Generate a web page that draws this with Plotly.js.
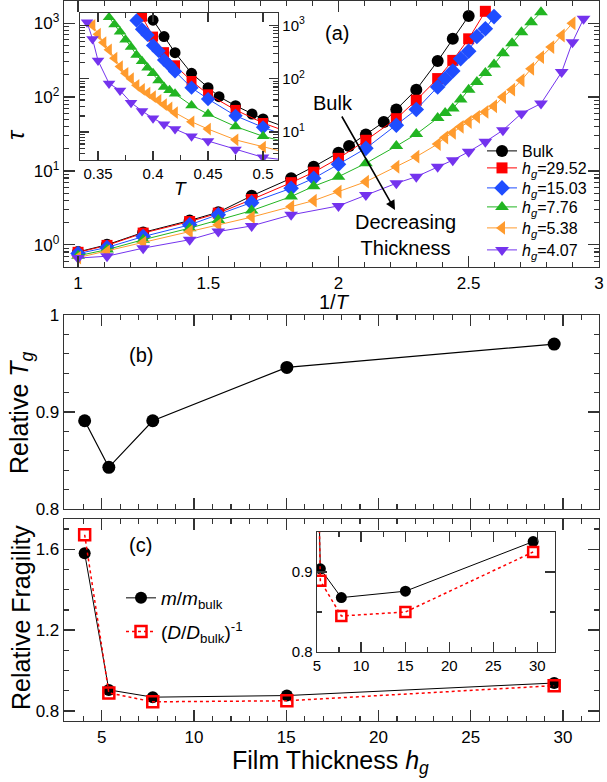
<!DOCTYPE html>
<html><head><meta charset="utf-8">
<script src="https://cdn.plot.ly/plotly-3.0.1.min.js"></script>
<style>html,body{margin:0;padding:0;background:#fff}#g{width:607px;height:782px}</style>
</head><body><div id="g"></div>
<script>
// ---- Panel (a): relaxation time tau vs temperature T ----
const T_bulk = [0.40,0.41,0.42,0.435,0.45,0.46,0.475,0.49,0.50,0.525,0.55,0.60,0.65,0.70,0.80,0.90,1.00];
const tau_bulk = [1250,615,307,126,67.8,46,31.2,21.7,17.6,11.4,7.94,4.6,2.76,2.13,1.47,1.0,0.80];
const T_h2952 = [0.39,0.40,0.41,0.42,0.435,0.45,0.475,0.50,0.525,0.55,0.60,0.65,0.70,0.80,0.90,1.00];
const tau_h2952 = [1450,615,314,178,90.6,51,26,14.8,9.6,6.93,4.1,2.68,2.06,1.44,0.98,0.79];
const T_h1503 = [0.385,0.39,0.395,0.40,0.405,0.41,0.415,0.42,0.435,0.45,0.475,0.50,0.525,0.55,0.60,0.65,0.70,0.80,0.90,1.00];
const tau_h1503 = [1230,840,661,419,331,225,178,137,67.8,41.6,20.2,12.3,7.94,5.82,3.72,2.54,1.86,1.29,0.92,0.76];
const T_h776 = [0.36,0.365,0.37,0.375,0.38,0.385,0.39,0.395,0.40,0.405,0.41,0.415,0.42,0.435,0.45,0.475,0.50,0.525,0.55,0.60,0.65,0.70,0.80,0.90,1.00];
const tau_h776 = [1408,1032,756,537,393,277,212,160,126,92.5,70,61,52,31.5,21.7,12.7,8.35,6.2,4.49,2.9,2.17,1.68,1.17,0.86,0.71];
const T_h538 = [0.345,0.35,0.355,0.36,0.365,0.37,0.375,0.38,0.385,0.39,0.395,0.40,0.405,0.41,0.415,0.42,0.435,0.45,0.475,0.50,0.525,0.55,0.60,0.65,0.70,0.80,0.90,1.00];
const tau_h538 = [1000,682,475,347,242,169,126,100,75,63,54,46,39.5,32.8,28.4,23.1,15.6,11.4,7.15,5.25,3.96,3.29,2.37,1.86,1.51,1.07,0.81,0.67];
const T_h407 = [0.34,0.345,0.35,0.36,0.37,0.38,0.39,0.40,0.41,0.42,0.435,0.45,0.475,0.50,0.55,0.60,0.65,0.70,0.80,0.90,1.00];
const tau_h407 = [1146,554,218,81.7,60,35.6,24.8,18.2,14.0,11.4,8.35,6.8,4.73,3.36,2.54,1.80,1.51,1.17,0.90,0.70,0.66];

const seriesNames = ['Bulk','<i>h</i><sub><i>g</i></sub>=29.52','<i>h</i><sub><i>g</i></sub>=15.03','<i>h</i><sub><i>g</i></sub>=7.76','<i>h</i><sub><i>g</i></sub>=5.38','<i>h</i><sub><i>g</i></sub>=4.07'];

// ---- Panels (b), (c) ----
const hg = [4.07,5.38,7.76,15.03,29.52];
const relTg = [0.891,0.843,0.891,0.946,0.970];
const mRel = [1.58,0.904,0.868,0.876,0.938];
const DinvRel = [1.672,0.889,0.845,0.850,0.925];

// tick labels
const logTickVals = [1,10,100,1000];
const logTickText = ['10<sup>0</sup>','10<sup>1</sup>','10<sup>2</sup>','10<sup>3</sup>'];
const logMinorVals = [0.6,0.7,0.8,0.9,2,3,4,5,6,7,8,9,20,30,40,50,60,70,80,90,200,300,400,500,600,700,800,900];

const F = 'Liberation Sans, Arial, sans-serif';
const W = 607, H = 782;
const px = x => x / W;
const py = y => 1 - y / H;
const AX = '#333';

const styles = [
  {sym:'circle', col:'#000000', size:12},
  {sym:'square', col:'#ff0000', size:11},
  {sym:'diamond', col:'#1f4dff', size:12},
  {sym:'triangle-up', col:'#22b522', size:12},
  {sym:'triangle-left', col:'#ff9b2e', size:12},
  {sym:'triangle-down', col:'#7433ee', size:12}
];
const Ts = [T_bulk,T_h2952,T_h1503,T_h776,T_h538,T_h407];
const taus = [tau_bulk,tau_h2952,tau_h1503,tau_h776,tau_h538,tau_h407];
// legend row centres (pixels) for panel (a)
const legRows = [151,168,188,207,228,250];
const legIds = ['legend','legend2','legend3','legend4','legend5','legend6'];

const traces = [];
Ts.forEach((T,i)=>{
  const s = styles[i];
  traces.push({x:T.map(t=>1/t), y:taus[i], type:'scatter', mode:'lines+markers', name:seriesNames[i],
    xaxis:'x', yaxis:'y', legend:legIds[i],
    line:{color:s.col,width:1}, marker:{symbol:s.sym,color:s.col,size:s.size,line:{width:0}}});
});
Ts.forEach((T,i)=>{
  const s = styles[i];
  traces.push({x:T, y:taus[i], type:'scatter', mode:'lines+markers', showlegend:false,
    xaxis:'x2', yaxis:'y2',
    line:{color:s.col,width:1}, marker:{symbol:s.sym,color:s.col,size:s.size-1,line:{width:0}}});
});
traces.push({x:hg, y:relTg, type:'scatter', mode:'lines+markers', showlegend:false, xaxis:'x3', yaxis:'y3',
  line:{color:'#000',width:1.2}, marker:{symbol:'circle',color:'#000',size:13}});
traces.push({x:hg, y:mRel, type:'scatter', mode:'lines+markers', name:'<i>m</i>/<i>m</i><sub>bulk</sub>', xaxis:'x4', yaxis:'y4',
  legend:'legend7', legendgroup:'m',
  line:{color:'#000',width:1}, marker:{symbol:'circle',color:'#000',size:12}});
traces.push({x:hg, y:DinvRel, type:'scatter', mode:'lines+markers', name:'(<i>D</i>/<i>D</i><sub>bulk</sub>)<sup>-1</sup>', xaxis:'x4', yaxis:'y4',
  legend:'legend7', legendgroup:'d',
  line:{color:'#ff0000',width:1.5,dash:'dot'}, marker:{symbol:'square-open',color:'#ff0000',size:11,line:{width:2.5,color:'#ff0000'}}});
traces.push({x:hg, y:mRel, type:'scatter', mode:'lines+markers', showlegend:false, xaxis:'x5', yaxis:'y5',
  line:{color:'#000',width:1}, marker:{symbol:'circle',color:'#000',size:11}});
traces.push({x:hg, y:DinvRel, type:'scatter', mode:'lines+markers', showlegend:false, xaxis:'x5', yaxis:'y5',
  line:{color:'#ff0000',width:1.5,dash:'dot'}, marker:{symbol:'square-open',color:'#ff0000',size:10,line:{width:2.5,color:'#ff0000'}}});

function ax(o){
  return Object.assign({showline:true, linecolor:AX, linewidth:1.3, mirror:'ticks', ticks:'inside',
    tickcolor:AX, tickwidth:1.2, ticklen:11, showgrid:false, zeroline:false,
    tickfont:{family:F,size:17,color:'#000'}}, o);
}
function minor(o){ return Object.assign({ticks:'inside', ticklen:5, tickcolor:AX, tickwidth:1.2, showgrid:false}, o); }
function ann(text, x, y, size, extra){
  return Object.assign({text:text, xref:'paper', yref:'paper', x:px(x), y:py(y), xanchor:'center', yanchor:'middle',
    showarrow:false, font:{family:F, size:size, color:'#000'}}, extra||{});
}

const layout = {
  width:W, height:H, margin:{l:0,r:0,t:0,b:0}, paper_bgcolor:'#fff', plot_bgcolor:'#fff',
  font:{family:F, color:'#000'}, showlegend:true,
  xaxis: ax({domain:[px(64),px(599)], anchor:'y', range:[0.946,3.0005], tickmode:'linear', tick0:0, dtick:0.5,
    minor:minor({dtick:0.1, tick0:0})}),
  yaxis: ax({domain:[py(267),py(1)], anchor:'x', type:'log', range:[Math.log10(0.5),Math.log10(2000)],
    tickmode:'array', tickvals:logTickVals, ticktext:logTickText,
    minor:minor({tickmode:'array', tickvals:logMinorVals})}),
  xaxis2: ax({domain:[px(80),px(278)], anchor:'y2', range:[0.3336,0.5136], tickmode:'linear', tick0:0, dtick:0.05, ticklen:9,
    tickfont:{family:F,size:15,color:'#000'}, minor:minor({dtick:0.025, tick0:0, ticklen:5})}),
  yaxis2: ax({domain:[py(160),py(13)], anchor:'x2', side:'right', type:'log', range:[Math.log10(3),Math.log10(1700)],
    tickmode:'array', tickvals:logTickVals, ticktext:logTickText, ticklen:9,
    tickfont:{family:F,size:15,color:'#000'}, minor:minor({tickmode:'array', tickvals:logMinorVals, ticklen:5})}),
  xaxis3: ax({domain:[px(64),px(599)], anchor:'y3', range:[2.95,31.95], tickmode:'linear', tick0:0, dtick:5, showticklabels:false,
    minor:minor({dtick:1, tick0:0})}),
  yaxis3: ax({domain:[py(509),py(315)], anchor:'x3', range:[0.8,1.0], tickmode:'linear', tick0:0.8, dtick:0.1,
    minor:minor({dtick:0.02, tick0:0.8})}),
  xaxis4: ax({domain:[px(64),px(599)], anchor:'y4', range:[2.95,31.95], tickmode:'linear', tick0:0, dtick:5,
    minor:minor({dtick:1, tick0:0})}),
  yaxis4: ax({domain:[py(721),py(519)], anchor:'x4', range:[0.75,1.75], tickmode:'linear', tick0:0.8, dtick:0.4,
    minor:minor({dtick:0.1, tick0:0.8})}),
  xaxis5: ax({domain:[px(317),px(555)], anchor:'y5', range:[5,32], tickmode:'linear', tick0:0, dtick:5, ticklen:10,
    tickfont:{family:F,size:15,color:'#000'}, minor:minor({dtick:2.5, tick0:0, ticklen:5})}),
  yaxis5: ax({domain:[py(652),py(532)], anchor:'x5', range:[0.8,0.95], tickmode:'linear', tick0:0.8, dtick:0.1, ticklen:10,
    tickfont:{family:F,size:15,color:'#000'}, minor:minor({dtick:0.05, tick0:0.8, ticklen:5})}),
  legend7: {x:px(121), y:py(579), xanchor:'left', yanchor:'top', bgcolor:'rgba(0,0,0,0)', borderwidth:0,
    font:{family:F,size:19,color:'#000'}, traceorder:'grouped', tracegroupgap:6, itemwidth:30},
  annotations: [
    ann('<i>τ</i>', 15, 135, 24, {textangle:-90}),
    ann('1/<i>T</i>', 334, 302, 20),
    ann('<i>T</i>', 180, 188, 19),
    ann('(a)', 337, 33, 20),
    ann('Bulk', 333, 103, 20),
    {text:'', xref:'paper', yref:'paper', x:px(395), y:py(210), ax:-54, ay:-95, showarrow:true, arrowhead:2, arrowsize:1.2, arrowwidth:1.6, arrowcolor:'#000', standoff:0, startstandoff:0},
    ann('Decreasing<br>Thickness', 405, 235, 20),
    ann('(b)', 141, 355, 20),
    ann('(c)', 140, 545, 20),
    ann('Relative <i>T</i><sub><i>g</i></sub>', 21, 413, 25, {textangle:-90}),
    ann('Relative Fragility', 21, 618, 25, {textangle:-90}),
    ann('Film Thickness <i>h</i><sub><i>g</i></sub>', 330, 762, 25)
  ]
};
legIds.forEach((id,i)=>{
  layout[id] = {x:px(482), y:py(legRows[i]-17), xanchor:'left', yanchor:'top', bgcolor:'rgba(0,0,0,0)', borderwidth:0,
    font:{family:F,size:16,color:'#000'}, itemwidth:30};
});
Plotly.newPlot('g', traces, layout, {displayModeBar:false, staticPlot:true});
</script></body></html>
